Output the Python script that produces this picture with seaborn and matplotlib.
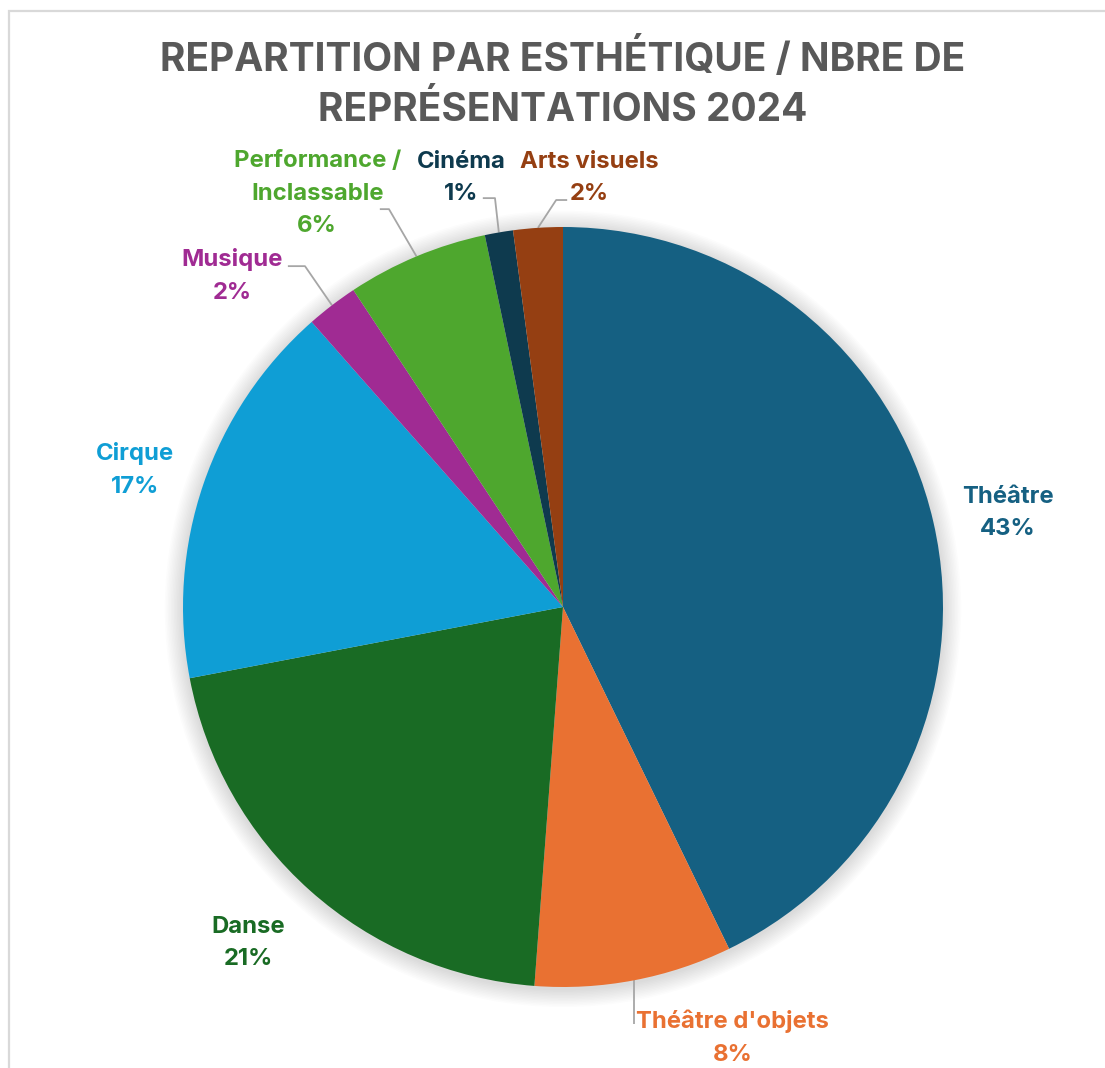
import matplotlib
matplotlib.use("Agg")
import matplotlib.pyplot as plt
import seaborn as sns
import numpy as np
from matplotlib.patches import Rectangle, Circle

# Share of performances per aesthetic (%), clockwise from 12 o'clock
categories = ["Théâtre", "Théâtre d'objets", "Danse", "Cirque", "Musique",
              "Performance /\nInclassable", "Cinéma", "Arts visuels"]
shares = [42.8, 8.4, 20.8, 16.5, 2.2, 6.0, 1.2, 2.1]
pct_labels = ["43%", "8%", "21%", "17%", "2%", "6%", "1%", "2%"]
colors = ["#156082", "#E97132", "#196B24", "#0F9ED5", "#A02B93",
          "#4EA72E", "#0E3A4E", "#953F12"]

title = "REPARTITION PAR ESTHÉTIQUE / NBRE DE\nREPRÉSENTATIONS 2024"

# label layout (pie radius = 1)
label_pos = [(1.171, 0.247), (0.447, -1.134), (-0.829, -0.884), (-1.126, 0.360),
             (-0.871, 0.871), (-0.647, 1.087), (-0.268, 1.129), (0.068, 1.129)]
# leader lines: index -> (start near text, elbow)
leaders = {
    1: [(0.180, -1.098), None],
    4: [(-0.724, 0.897), (-0.679, 0.897)],
    5: [(-0.482, 1.047), (-0.458, 1.047)],
    6: [(-0.211, 1.076), (-0.179, 1.076)],
    7: [(0.011, 1.071), (-0.018, 1.071)],
}

sns.set_theme(style="white")
plt.rcParams['font.family'] = ['Inter', 'DejaVu Sans']

W, H = 1105, 1068
cx, cy, R = 563, 607, 380
fig = plt.figure(figsize=(W / 100, H / 100), dpi=100)
ax = fig.add_axes([0, 0, 1, 1])

# soft shadow behind the pie
for k in range(12):
    ax.add_patch(Circle((0.0, -0.005), 1.0 + 0.004 * (k + 1), color="black",
                        alpha=0.012, lw=0, zorder=0))

wedges, _ = ax.pie(shares, colors=colors, startangle=90, counterclock=False,
                   radius=1.0, wedgeprops=dict(linewidth=0))
for w in wedges:
    w.set_zorder(2)

ax.set_xlim(-cx / R, (W - cx) / R)
ax.set_ylim(-(H - cy) / R, cy / R)
ax.set_aspect('auto')
ax.axis('off')

for i, w in enumerate(wedges):
    x, y = label_pos[i]
    ax.text(x, y, categories[i] + "\n" + pct_labels[i], color=colors[i],
            fontsize=17.2, fontweight='bold', ha='center', va='center',
            linespacing=1.62, zorder=3)
    if i in leaders:
        mid = np.deg2rad((w.theta1 + w.theta2) / 2)
        ex, ey = np.cos(mid), np.sin(mid)
        start, elbow = leaders[i]
        if elbow is None:
            elbow = (ex, start[1])
            start = elbow
        ax.plot([start[0], elbow[0], ex], [start[1], elbow[1], ey],
                color="#A6A6A6", lw=1.3, zorder=1, solid_capstyle='butt')

fig.text(cx / W, 1 - 83 / H, title, ha='center', va='center', fontsize=28,
         fontweight='bold', color="#595959", linespacing=1.42)

# chart frame
fig.patches.append(Rectangle((9 / W, -0.1), 1.2, (H - 11) / H + 0.1,
                             transform=fig.transFigure, fill=False,
                             edgecolor="#D9D9D9", lw=1.6))

fig.savefig("out.png", dpi=100)
